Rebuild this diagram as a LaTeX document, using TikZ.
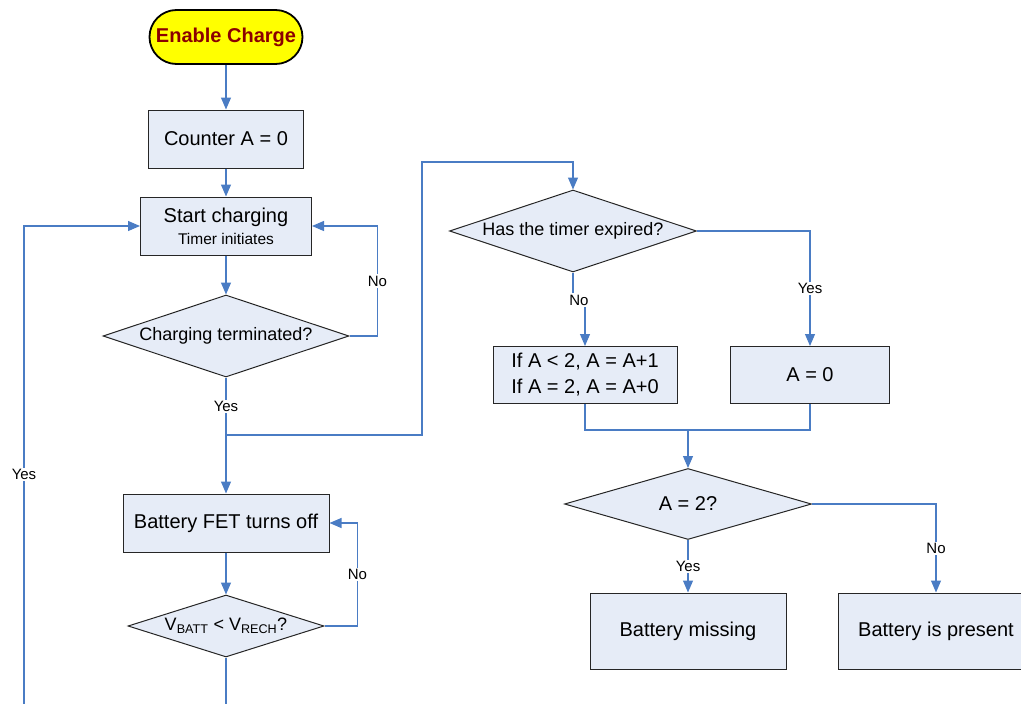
\documentclass[tikz,border=0pt]{standalone}
\usepackage{fontspec}
\setmainfont{Liberation Sans}
\usetikzlibrary{arrows.meta,positioning,calc,shapes.geometric}
\definecolor{nodefill}{HTML}{E6ECF7}
\definecolor{linkblue}{HTML}{4A7CC4}
\definecolor{startfill}{HTML}{FFFF00}
\definecolor{starttext}{HTML}{8B0000}

\begin{document}
\begin{tikzpicture}[x=1pt, y=-1pt,
  start/.style={draw, line width=1.8pt, fill=startfill, rounded corners=27pt, minimum width=153, minimum height=54, font=\bfseries\fontsize{20}{24}\selectfont, text=starttext},
  box/.style={draw=black!85, line width=1pt, fill=nodefill, align=center, inner sep=0pt, font=\fontsize{20}{26}\selectfont},
  decision/.style={diamond, aspect=3, draw=black!85, line width=1pt, fill=nodefill, align=center, inner sep=0pt, font=\fontsize{18}{22}\selectfont},
  link/.style={line width=1.1pt, draw=linkblue},
  arr/.style={link, -{Triangle[length=12pt, width=10pt]}, linkblue},
  lbl/.style={fill=white, inner sep=1.5pt, font=\fontsize{15}{18}\selectfont, text=black}
]
  \useasboundingbox (0,0) rectangle (1021,704);
  \clip (0,0) rectangle (1021,704);

  % left column
  \node[start] (enable) at (226,37) {Enable Charge};
  \node[box, minimum width=155, minimum height=58] (counter) at (226,139) {Counter A = 0};
  \node[box, minimum width=171, minimum height=58] (startchg) at (226,226) {Start charging\\[-4pt]{\fontsize{15.5}{18}\selectfont Timer initiates}};
  \node[decision, minimum width=246, minimum height=82] (chgterm) at (226,336) {Charging terminated?};
  \node[box, minimum width=206, minimum height=58] (fetoff) at (226,523) {Battery FET turns off};
  \node[decision, minimum width=196, minimum height=62] (vcheck) at (226,626) {V\textsubscript{BATT} < V\textsubscript{RECH}?};

  % right column
  \node[decision, minimum width=247, minimum height=82] (timer) at (573,231) {Has the timer expired?};
  \node[box, minimum width=184, minimum height=57] (incr) at (585,375) {If A < 2, A = A+1\\If A = 2, A = A+0};
  \node[box, minimum width=159, minimum height=57] (reset) at (810,375) {A = 0};
  \node[decision, minimum width=247, minimum height=71, font=\fontsize{20}{24}\selectfont] (atwo) at (688,504) {A = 2?};
  \node[box, minimum width=196, minimum height=76] (missing) at (688,631) {Battery missing};
  \node[box, minimum width=196, minimum height=76] (present) at (936,631) {Battery is present};

  \coordinate (split) at (226,435);
  \coordinate (jogA) at (422,162);
  \coordinate (nojog) at (585,300);
  \coordinate (merge) at (688,430);
  \coordinate (bottomV) at (226,704);
  \coordinate (bottomL) at (24,704);

  \draw[arr] (enable) -- (counter);
  \draw[arr] (counter) -- (startchg);
  \draw[arr] (startchg) -- (chgterm);
  \draw[arr] (chgterm.east) -- ++(28,0) |- node[lbl, pos=0.25] {No} (startchg.east);
  \draw[link] (chgterm.south) -- node[lbl] {Yes} (split);
  \draw[arr] (split) -- (fetoff);
  \draw[arr] (split) -| (jogA) -| (timer.north);
  \draw[arr] (fetoff) -- (vcheck);
  \draw[arr] (vcheck.east) -- ++(33,0) |- node[lbl, pos=0.25] {No} (fetoff.east);
  \draw[link] (vcheck.south) -- (bottomV);
  \draw[arr] (bottomL) |- node[lbl, pos=0.24] {Yes} (startchg.west);

  \draw[arr] (timer.south) |- node[lbl, pos=0.75] {No} (nojog) -- (incr.north);
  \draw[arr] (timer.east) -| node[lbl, pos=0.75] {Yes} (reset.north);
  \draw[link] (incr.south) |- (merge) -| (reset.south);
  \draw[arr] (merge) -- (atwo.north);
  \draw[arr] (atwo.south) -- node[lbl] {Yes} (missing.north);
  \draw[arr] (atwo.east) -| node[lbl, pos=0.75] {No} (present.north);
\end{tikzpicture}
\end{document}
